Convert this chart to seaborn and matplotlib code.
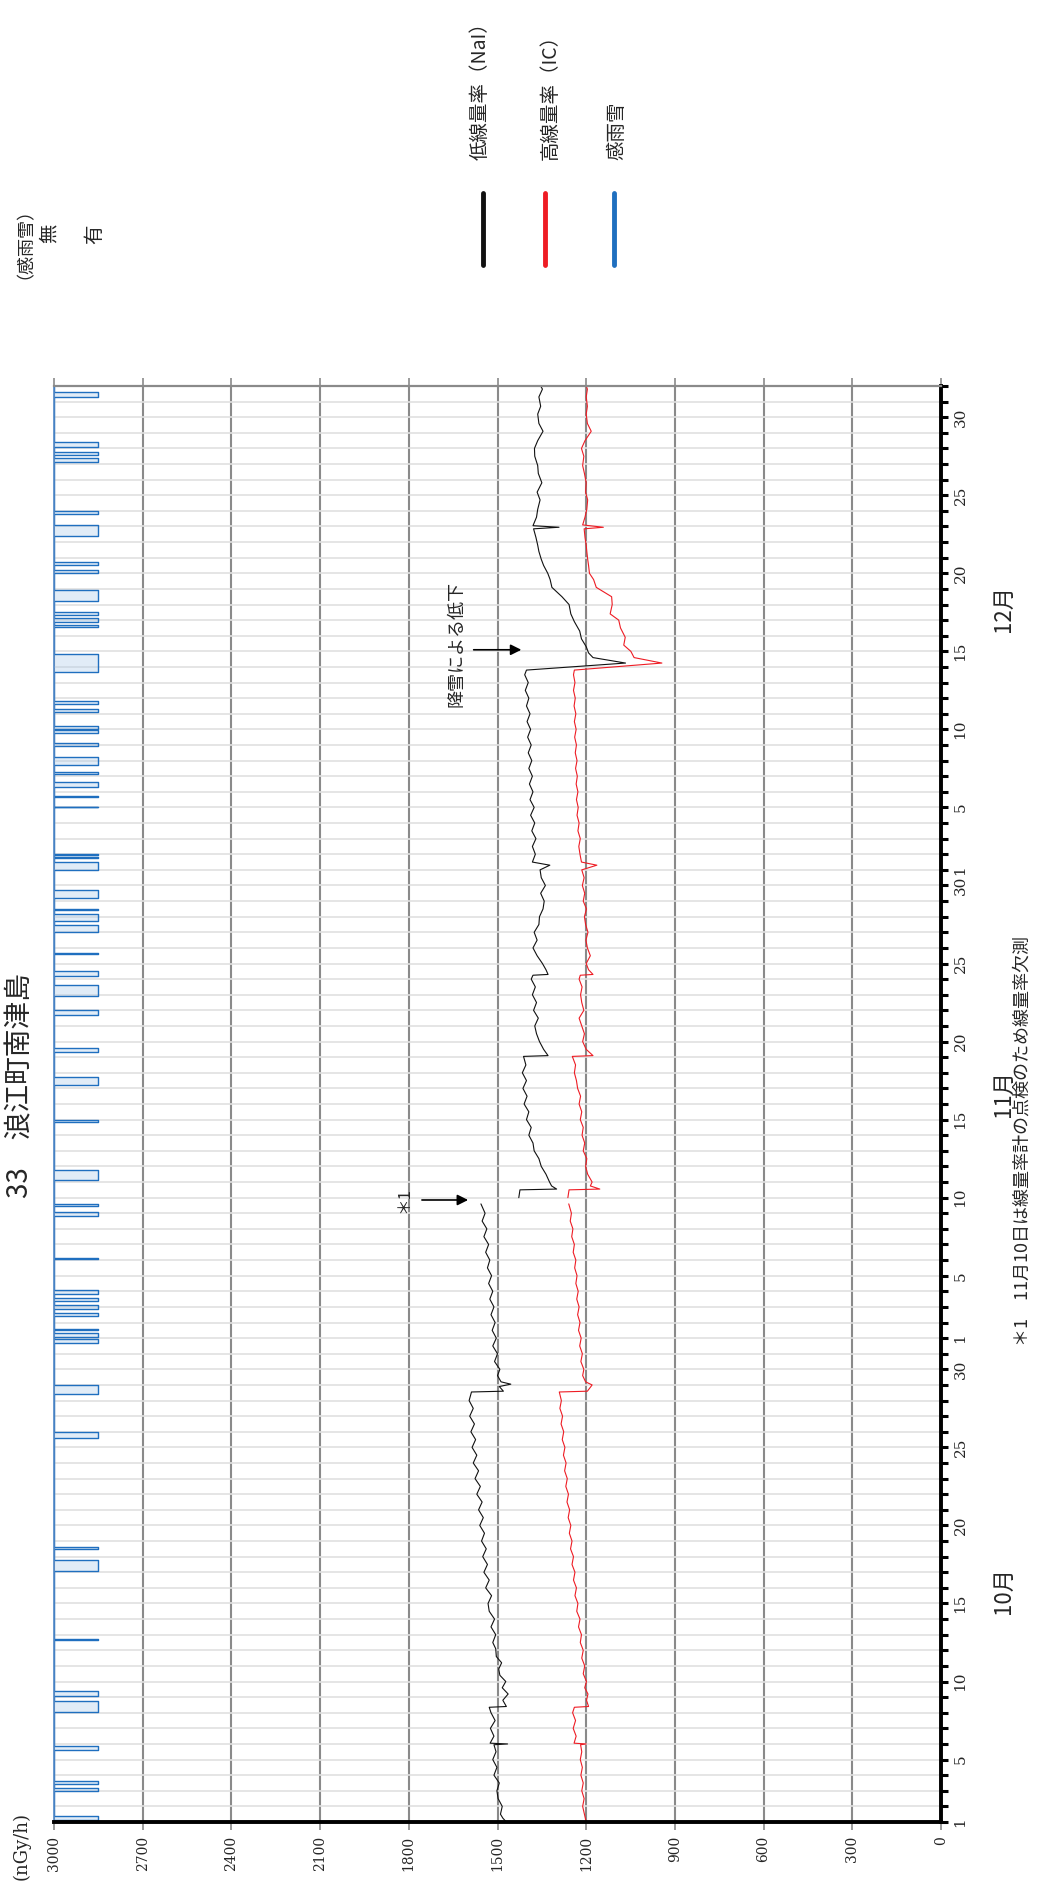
import numpy as np
import matplotlib
matplotlib.use("Agg")
import matplotlib.pyplot as plt
import seaborn as sns
from matplotlib.lines import Line2D

# --- data (days since Oct 1 00:00, nGy/h) ---
nai_a = [(0.0, 1470), (0.25, 1482), (0.5, 1490), (1.0, 1484), (1.5, 1498), (2.0, 1502), (2.5, 1494),
         (3.0, 1512), (3.5, 1502), (4.0, 1516), (4.5, 1505), (4.95, 1512), (5.0, 1466), (5.05, 1525),
         (5.5, 1512), (6.0, 1524), (6.5, 1508), (7.0, 1522), (7.35, 1528), (7.4, 1470), (7.8, 1482),
         (8.2, 1464), (8.6, 1484), (9.0, 1472), (9.4, 1492), (9.8, 1496), (10.2, 1486), (10.6, 1504),
         (11.1, 1506), (11.5, 1516), (12.0, 1506), (12.5, 1522), (13.0, 1510), (13.5, 1528), (14.0, 1532),
         (14.5, 1520), (15.0, 1540), (15.5, 1528), (16.0, 1546), (16.5, 1534), (17.0, 1550), (17.5, 1538),
         (18.0, 1554), (18.5, 1544), (19.0, 1560), (19.5, 1548), (20.0, 1564), (20.5, 1552), (21.0, 1570),
         (21.5, 1558), (22.0, 1576), (22.5, 1564), (23.0, 1582), (23.5, 1570), (24.0, 1586), (24.5, 1574),
         (25.0, 1590), (25.5, 1578), (26.0, 1594), (26.5, 1582), (27.0, 1596), (27.55, 1588), (27.6, 1480),
         (27.9, 1494), (28.05, 1455), (28.2, 1488), (28.6, 1500), (29.0, 1492), (29.5, 1510), (30.0, 1500),
         (30.5, 1516), (31.0, 1504), (31.5, 1518), (32.0, 1508), (32.5, 1522), (33.0, 1512), (33.5, 1526),
         (34.0, 1516), (34.5, 1530), (35.0, 1520), (35.5, 1534), (36.0, 1526), (36.5, 1540), (37.0, 1530),
         (37.5, 1546), (38.0, 1536), (38.5, 1552), (39.0, 1542), (39.6, 1556)]
nai_b = [(40.0, 1428), (40.5, 1424), (40.55, 1300), (40.75, 1317), (41.0, 1324), (41.5, 1336), (42.0, 1352),
         (42.5, 1360), (43.0, 1376), (43.5, 1380), (44.0, 1394), (44.5, 1386), (45.0, 1402), (45.5, 1394),
         (46.0, 1410), (46.5, 1400), (47.0, 1414), (47.5, 1402), (48.0, 1416), (48.5, 1404), (49.05, 1412),
         (49.1, 1329), (49.5, 1344), (50.0, 1358), (50.5, 1368), (51.0, 1374), (51.5, 1362), (52.0, 1378),
         (52.5, 1368), (53.0, 1382), (53.5, 1372), (54.0, 1386), (54.25, 1380), (54.3, 1329), (54.6, 1336),
         (55.0, 1348), (55.5, 1366), (56.0, 1380), (56.5, 1366), (57.0, 1376), (57.5, 1360), (58.0, 1358),
         (58.5, 1346), (59.0, 1342), (59.5, 1354), (60.0, 1338), (60.5, 1352), (61.0, 1356), (61.3, 1323),
         (61.5, 1382), (62.0, 1372), (62.5, 1382), (63.0, 1370), (63.5, 1384), (64.0, 1374), (64.5, 1388),
         (65.0, 1376), (65.5, 1390), (66.0, 1380), (66.5, 1392), (67.0, 1382), (67.5, 1394), (68.0, 1384),
         (68.5, 1396), (69.0, 1386), (69.5, 1398), (70.0, 1388), (70.5, 1400), (71.0, 1390), (71.5, 1402),
         (72.0, 1394), (72.5, 1406), (73.0, 1396), (73.5, 1408), (73.8, 1402), (74.25, 1067), (74.6, 1177),
         (74.9, 1192), (75.3, 1200), (75.8, 1216), (76.3, 1222), (76.9, 1240), (77.4, 1252), (78.0, 1258),
         (78.5, 1282), (79.1, 1316), (79.6, 1322), (80.0, 1330), (80.5, 1344), (80.9, 1352), (81.4, 1360),
         (81.8, 1364), (82.3, 1370), (82.85, 1378), (82.95, 1292), (83.05, 1380), (83.6, 1368), (84.1, 1364),
         (84.7, 1356), (85.2, 1366), (85.8, 1350), (86.4, 1362), (86.9, 1364), (87.5, 1374), (88.0, 1375),
         (88.5, 1364), (89.1, 1346), (89.6, 1360), (90.2, 1364), (90.7, 1354), (91.3, 1360), (91.8, 1348),
         (92.0, 1354)]
ic_a = [(0.0, 1200), (0.5, 1206), (1.0, 1212), (1.5, 1207), (2.0, 1215), (2.5, 1210), (3.0, 1218),
        (3.5, 1213), (4.0, 1220), (4.5, 1215), (4.95, 1219), (5.0, 1200), (5.05, 1241), (5.5, 1234),
        (6.0, 1244), (6.5, 1236), (7.0, 1246), (7.35, 1240), (7.4, 1192), (7.8, 1199), (8.2, 1194),
        (8.6, 1205), (9.0, 1199), (9.5, 1210), (10.0, 1205), (10.5, 1215), (11.0, 1210), (11.5, 1220),
        (12.0, 1216), (12.5, 1226), (13.0, 1221), (13.5, 1232), (14.0, 1228), (14.5, 1238), (15.0, 1233),
        (15.5, 1243), (16.0, 1238), (16.5, 1248), (17.0, 1243), (17.5, 1253), (18.0, 1248), (18.5, 1257),
        (19.0, 1252), (19.5, 1261), (20.0, 1256), (20.5, 1265), (21.0, 1260), (21.5, 1269), (22.0, 1264),
        (22.5, 1273), (23.0, 1268), (23.5, 1277), (24.0, 1272), (24.5, 1281), (25.0, 1276), (25.5, 1285),
        (26.0, 1280), (26.5, 1289), (27.0, 1284), (27.55, 1291), (27.6, 1196), (27.85, 1186), (28.0, 1180),
        (28.2, 1202), (28.6, 1212), (29.0, 1208), (29.5, 1218), (30.0, 1213), (30.5, 1222), (31.0, 1217),
        (31.5, 1226), (32.0, 1221), (32.5, 1229), (33.0, 1224), (33.5, 1232), (34.0, 1227), (34.5, 1235),
        (35.0, 1231), (35.5, 1239), (36.0, 1235), (36.5, 1244), (37.0, 1240), (37.5, 1249), (38.0, 1245),
        (38.5, 1254), (39.0, 1250), (39.6, 1259)]
ic_b = [(40.0, 1262), (40.5, 1258), (40.55, 1154), (40.75, 1186), (41.0, 1180), (41.5, 1195), (42.0, 1202),
        (42.5, 1198), (43.0, 1210), (43.5, 1205), (44.0, 1214), (44.5, 1210), (45.0, 1220), (45.5, 1215),
        (46.0, 1224), (46.5, 1219), (47.0, 1229), (47.5, 1233), (48.0, 1240), (48.5, 1236), (49.05, 1247),
        (49.1, 1177), (49.5, 1200), (50.0, 1212), (50.5, 1206), (51.0, 1215), (51.5, 1224), (52.0, 1208),
        (52.5, 1215), (53.0, 1219), (53.5, 1214), (54.0, 1224), (54.25, 1220), (54.3, 1177), (54.6, 1192),
        (55.0, 1200), (55.5, 1186), (56.0, 1196), (56.5, 1201), (57.0, 1194), (57.5, 1202), (58.0, 1206),
        (58.5, 1199), (59.0, 1210), (59.5, 1205), (60.0, 1213), (60.5, 1207), (61.0, 1215), (61.3, 1164),
        (61.5, 1216), (62.0, 1221), (62.5, 1225), (63.0, 1220), (63.5, 1228), (64.0, 1224), (64.5, 1231),
        (65.0, 1227), (65.5, 1233), (66.0, 1228), (66.5, 1234), (67.0, 1230), (67.5, 1236), (68.0, 1231),
        (68.5, 1237), (69.0, 1233), (69.5, 1239), (70.0, 1234), (70.5, 1240), (71.0, 1235), (71.5, 1241),
        (72.0, 1237), (72.5, 1243), (73.0, 1238), (73.5, 1243), (73.8, 1240), (74.25, 944), (74.6, 1038),
        (75.0, 1049), (75.4, 1073), (75.9, 1068), (76.5, 1084), (77.0, 1090), (77.4, 1119), (78.0, 1112),
        (78.5, 1114), (79.1, 1166), (79.6, 1175), (80.0, 1189), (80.5, 1192), (80.9, 1195), (81.4, 1198),
        (81.8, 1200), (82.3, 1204), (82.85, 1207), (82.95, 1142), (83.1, 1212), (83.6, 1204), (84.1, 1198),
        (84.7, 1195), (85.2, 1202), (85.8, 1200), (86.4, 1206), (86.9, 1212), (87.5, 1208), (88.0, 1216),
        (88.5, 1204), (89.1, 1183), (89.6, 1196), (90.2, 1200), (90.7, 1196), (91.3, 1200), (91.8, 1196),
        (92.0, 1200)]

# rain / snow sensor "on" periods (days since Oct 1)
rain_start = [0.1, 2.0, 2.45, 4.6, 7.07, 8.1, 11.65, 16.1, 17.5, 24.6, 27.4, 30.7, 31.1, 31.5, 32.4,
              32.85, 33.4, 33.85, 36.05, 38.85, 39.45, 41.1, 44.85, 47.2, 49.3, 51.7, 52.9, 54.2, 55.6,
              57.0, 57.75, 58.4, 59.2, 61.0, 61.75, 61.95, 65.0, 65.65, 66.3, 67.15, 67.7, 68.95, 69.8,
              70.05, 71.1, 71.6, 73.7, 76.55, 76.85, 77.35, 78.2, 80.0, 80.5, 82.4, 83.8, 87.1, 87.6,
              88.1, 91.3]
rain_end = [0.4, 2.15, 2.6, 4.9, 7.75, 8.4, 11.75, 16.8, 17.6, 25.0, 28.0, 30.95, 31.35, 31.6, 32.6,
            33.1, 33.6, 34.1, 36.15, 39.05, 39.6, 41.8, 45.0, 47.7, 49.6, 52.0, 53.6, 54.5, 55.7,
            57.45, 58.2, 58.5, 59.7, 61.5, 61.8, 62.0, 65.05, 65.75, 66.6, 67.25, 68.2, 69.1, 69.95,
            70.2, 71.3, 71.8, 74.8, 76.7, 77.15, 77.5, 78.9, 80.2, 80.7, 83.1, 84.0, 87.4, 87.8,
            88.4, 91.6]
rain_off, rain_on = 3000, 2850

value_ticks = list(range(0, 3001, 300))
day_label_pos = [0, 4, 9, 14, 19, 24, 29, 31, 35, 40, 45, 50, 55, 60, 61, 65, 70, 75, 80, 85, 90]
day_label_txt = ["1", "5", "10", "15", "20", "25", "30", "1", "5", "10", "15", "20", "25", "30",
                 "1", "5", "10", "15", "20", "25", "30"]
n_days = 92

# --- style ---
sns.set_style("white")
plt.rcParams["font.family"] = ["DejaVu Serif", "Noto Sans CJK JP"]
JP = ["Noto Sans CJK JP", "DejaVu Sans"]

W, H = 1040, 1892
fig = plt.figure(figsize=(W / 100, H / 100), dpi=100)
ax = fig.add_axes([54 / W, 1 - 1822 / H, 887 / W, 1436 / H])


def fx(px):
    return px / W


def fy(py):
    return 1 - py / H


# rain indicator (step line between 3000 and 2850)
rx, ry = [rain_off], [0]
for s, e in zip(rain_start, rain_end):
    ax.fill_betweenx([s, e], rain_on, rain_off, color="#a9c9ea", alpha=0.35, lw=0)
    rx += [rain_off, rain_on, rain_on, rain_off]
    ry += [s, s, e, e]
rx.append(rain_off)
ry.append(n_days)
sns.lineplot(x=rx, y=ry, orient="y", sort=False, estimator=None,
             color="#1f6fbf", lw=1.0, ax=ax)

# dose rate lines (gap on Nov 10)
for seg, col in [(nai_a, "#111111"), (nai_b, "#111111"), (ic_a, "#ee1c24"), (ic_b, "#ee1c24")]:
    d = [p[0] for p in seg]
    v = [p[1] for p in seg]
    sns.lineplot(x=v, y=d, orient="y", sort=False, estimator=None, color=col, lw=0.8, ax=ax)

# --- axes ---
ax.set_xlim(3000, 0)
ax.set_ylim(0, n_days)
ax.set_xticks(value_ticks)
ax.set_xticklabels([str(v) for v in value_ticks], rotation=90, fontsize=10)
ax.tick_params(axis="x", direction="out", length=6, width=1.2, color="#8a8a8a",
               bottom=True, top=True, pad=4)
ax.yaxis.tick_right()
ylabels = [""] * (n_days + 1)
for p, t in zip(day_label_pos, day_label_txt):
    ylabels[p] = t
ax.set_yticks(range(n_days + 1))
ax.set_yticklabels(ylabels, rotation=90, va="center", fontsize=11)
ax.tick_params(axis="y", direction="out", length=5, width=2.2, color="black",
               left=False, right=True, pad=4)
ax.grid(axis="x", color="#8a8a8a", lw=1.5)
ax.grid(axis="y", color="#e0e0e0", lw=1.2)
ax.set_axisbelow(True)
ax.set_xlabel("")
ax.set_ylabel("")
ax.spines["right"].set_color("black")
ax.spines["right"].set_linewidth(2.8)
ax.spines["bottom"].set_color("black")
ax.spines["bottom"].set_linewidth(2.8)
ax.spines["top"].set_color("#8a8a8a")
ax.spines["top"].set_linewidth(1.6)
ax.spines["left"].set_color("#4f86c6")
ax.spines["left"].set_linewidth(1.2)

# annotations
ax.annotate("", xy=(1590, 39.85), xytext=(1765, 39.85),
            arrowprops=dict(arrowstyle="-|>", color="black", lw=1.2, mutation_scale=16))
ax.text(1815, 39.85, "＊1", rotation=90, ha="center", va="center", fontsize=12, family=JP)
ax.annotate("", xy=(1410, 75.1), xytext=(1590, 75.1),
            arrowprops=dict(arrowstyle="-|>", color="black", lw=1.2, mutation_scale=16))
ax.text(1640, 75.5, "降雪による低下", rotation=90, ha="center", va="center", fontsize=13, family=JP)

# --- figure texts ---
fig.text(fx(20), fy(1085), "33　浪江町南津島", rotation=90, ha="center", va="center",
         fontsize=20, family=JP)
fig.text(fx(21), fy(1846), "(nGy/h)", rotation=90, ha="center", va="center", fontsize=13)
fig.text(fx(16), fy(234), "（感雨雪）", rotation=90, ha="center", va="center", fontsize=13, family=JP)
fig.text(fx(49), fy(233), "無", rotation=90, ha="center", va="center", fontsize=14, family=JP)
fig.text(fx(95), fy(234), "有", rotation=90, ha="center", va="center", fontsize=14, family=JP)

for xt, xl, col, txt in [(480, 483, "#111111", "低線量率（NaI）"),
                         (550, 545, "#ee1c24", "高線量率（IC）"),
                         (617, 614, "#1f6fbf", "感雨雪")]:
    fig.text(fx(xt), fy(160), txt, rotation=90, ha="center", va="bottom", fontsize=14, family=JP)
    fig.add_artist(Line2D([fx(xl), fx(xl)], [fy(193), fy(265)], color=col, lw=3.5,
                          transform=fig.transFigure))

fig.text(fx(1003), fy(1590), "10月", rotation=90, ha="center", va="center", fontsize=16, family=JP)
fig.text(fx(1003), fy(1093), "11月", rotation=90, ha="center", va="center", fontsize=16, family=JP)
fig.text(fx(1003), fy(609), "12月", rotation=90, ha="center", va="center", fontsize=16, family=JP)
fig.text(fx(1023), fy(1141), "＊1　11月10日は線量率計の点検のため線量率欠測", rotation=90,
         ha="center", va="center", fontsize=13, family=JP)

fig.savefig("out.png", dpi=100)
